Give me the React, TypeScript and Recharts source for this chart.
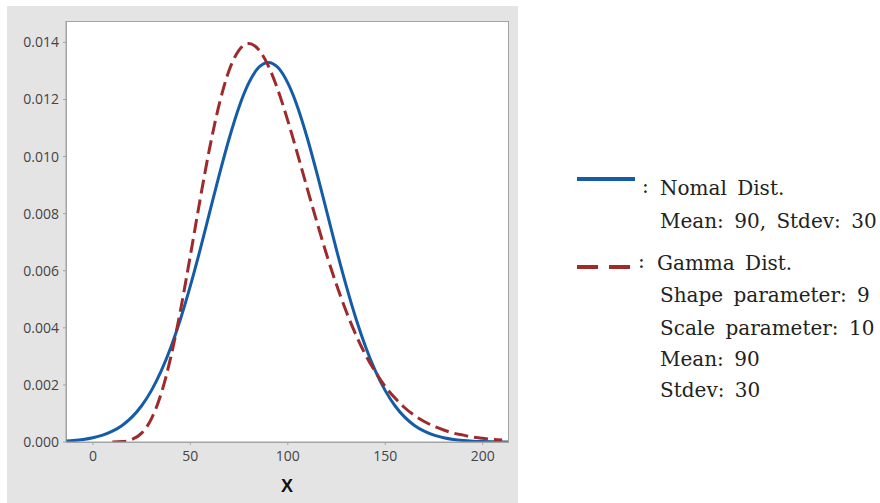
import React from 'react';
import { LineChart, Line, XAxis, YAxis } from 'recharts';

// x positions of the readings (step 5)
const xs = [
  -15, -10, -5, 0, 5, 10, 15, 20, 25, 30, 35, 40, 45, 50, 55, 60, 65, 70, 75, 80, 85, 90,
  95, 100, 105, 110, 115, 120, 125, 130, 135, 140, 145, 150, 155, 160, 165, 170, 175, 180,
  185, 190, 195, 200, 205, 210, 215,
];

// Normal (mean 90, sd 30)
const normal = [
  0.000029, 0.000051, 0.000088, 0.000148, 0.00024, 0.00038, 0.00058, 0.00087, 0.00127, 0.0018,
  0.00248, 0.00332, 0.00432, 0.00547, 0.00673, 0.00807, 0.0094, 0.01065, 0.01174, 0.01258,
  0.01312, 0.0133, 0.01312, 0.01258, 0.01174, 0.01065, 0.0094, 0.00807, 0.00673, 0.00547,
  0.00432, 0.00332, 0.00248, 0.0018, 0.00127, 0.00087, 0.00058, 0.00038, 0.00024, 0.000148,
  0.000088, 0.000051, 0.000029, 0.000016, 0.000008, 0.000004, 0.000002,
];

// Gamma (shape 9, scale 10) - starts around x = 10
const gamma = [
  null, null, null, null, null, 0.000001, 0.000014, 0.000086, 0.00031, 0.00081,
  0.00169, 0.00298, 0.00463, 0.00653, 0.00849, 0.01033, 0.01188, 0.01304, 0.01373, 0.01396,
  0.01375, 0.01318, 0.01232, 0.01126, 0.01009, 0.00888, 0.00769, 0.00655, 0.00551, 0.00457,
  0.00375, 0.00304, 0.00245, 0.00194, 0.00154, 0.0012, 0.00093, 0.00072, 0.00055, 0.00042,
  0.00031, 0.00024, 0.00017, 0.00013, 0.000094, 0.00007, null,
];

const xTicks = [0, 50, 100, 150, 200];
const yTicks = [0, 0.002, 0.004, 0.006, 0.008, 0.01, 0.012, 0.014];

const data = xs.map((x, i) => ({ x, normal: normal[i], gamma: gamma[i] }));

const BLUE = '#155ca8';
const RED = '#9e2a2b';
const AXIS = '#a3a3a3';

const legendLines = [
  { x: 660, y: 195, text: 'Nomal Dist.' },
  { x: 660, y: 228, text: 'Mean: 90, Stdev: 30' },
  { x: 657, y: 270, text: 'Gamma Dist.' },
  { x: 660, y: 302, text: 'Shape parameter: 9' },
  { x: 660, y: 335, text: 'Scale parameter: 10' },
  { x: 660, y: 366, text: 'Mean: 90' },
  { x: 660, y: 397, text: 'Stdev: 30' },
];

const tickStyle = { fontSize: 14, fill: '#444', fontFamily: '"Open Sans", "Noto Sans", sans-serif' };
const serif = '"DejaVu Serif", serif';

export default function App() {
  return (
    <div style={{ position: 'absolute', left: 0, top: 0, width: 880, height: 503, background: '#fff', overflow: 'hidden' }}>
      {/* gray panel + white plot area */}
      <div style={{ position: 'absolute', left: 7, top: 6, width: 511, height: 497, background: '#e4e4e4' }} />
      <div style={{ position: 'absolute', left: 66, top: 21, width: 441, height: 420, background: '#fff', border: `1px solid ${AXIS}` }} />

      <div style={{ position: 'absolute', left: 0, top: 0 }}>
        <LineChart width={880} height={503} data={data} margin={{ top: 21, right: 372, bottom: 0, left: 7 }}>
          <XAxis
            dataKey="x"
            type="number"
            domain={[-13.8, 213]}
            allowDataOverflow
            ticks={xTicks}
            height={61}
            tickSize={3}
            tickMargin={6}
            stroke={AXIS}
            tick={tickStyle}
            label={{ value: 'X', position: 'insideBottom', offset: 11, style: { fontSize: 18, fontWeight: 700, fill: '#111', fontFamily: 'Arial, "Liberation Sans", sans-serif' } }}
          />
          <YAxis
            type="number"
            domain={[0, 0.01475]}
            allowDataOverflow
            ticks={yTicks}
            width={59}
            tickSize={3}
            tickMargin={4}
            stroke={AXIS}
            tick={tickStyle}
            tickFormatter={(v: number) => v.toFixed(3)}
          />
          <Line
            dataKey="normal"
            type="monotone"
            stroke={BLUE}
            strokeWidth={3}
            dot={false}
            isAnimationActive={false}
          />
          <Line
            dataKey="gamma"
            type="monotone"
            stroke={RED}
            strokeWidth={3}
            strokeDasharray="14 6"
            dot={false}
            isAnimationActive={false}
          />
        </LineChart>
      </div>

      {/* legend */}
      <svg width={880} height={503} style={{ position: 'absolute', left: 0, top: 0 }}>
        <line x1={577} x2={635} y1={179} y2={179} stroke={BLUE} strokeWidth={4} />
        <line x1={577} x2={598} y1={267} y2={267} stroke={RED} strokeWidth={4} />
        <line x1={609} x2={630} y1={267} y2={267} stroke={RED} strokeWidth={4} />
        <text x={642} y={193} fontSize={20} fontFamily={serif} fill="#222">:</text>
        <text x={638} y={268} fontSize={20} fontFamily={serif} fill="#222">:</text>
        {legendLines.map((l) => (
          <text key={l.text} x={l.x} y={l.y} fontSize={20} fontFamily={serif} fill="#222" style={{ wordSpacing: 4 }}>
            {l.text}
          </text>
        ))}
      </svg>
    </div>
  );
}
